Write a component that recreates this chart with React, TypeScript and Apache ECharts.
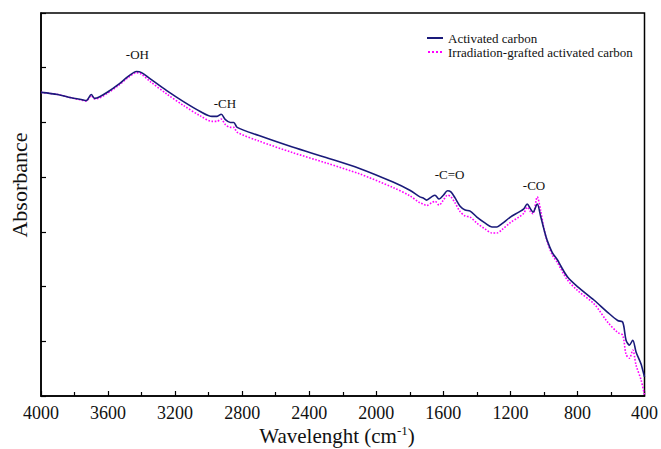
import React, { useEffect, useRef } from "react";
import * as echarts from "echarts";

const wavenumbers = [4000, 3900, 3820, 3760, 3730, 3700, 3680, 3650, 3600, 3540, 3480, 3430, 3400, 3350, 3250, 3150, 3050, 2980, 2950, 2925, 2900, 2870, 2850, 2830, 2700, 2500, 2300, 2100, 1900, 1800, 1740, 1720, 1700, 1670, 1650, 1625, 1600, 1575, 1555, 1530, 1500, 1470, 1440, 1400, 1350, 1310, 1280, 1250, 1200, 1150, 1120, 1100, 1080, 1065, 1040, 1020, 1000, 980, 950, 920, 900, 860, 800, 700, 620, 560, 530, 510, 490, 470, 450, 420, 400];

const activated = [5.55, 5.51, 5.45, 5.42, 5.40, 5.51, 5.44, 5.47, 5.56, 5.69, 5.84, 5.93, 5.91, 5.80, 5.58, 5.38, 5.20, 5.11, 5.11, 5.15, 5.05, 5.00, 5.00, 4.91, 4.76, 4.55, 4.36, 4.16, 3.91, 3.76, 3.64, 3.62, 3.58, 3.64, 3.67, 3.60, 3.67, 3.75, 3.73, 3.62, 3.47, 3.40, 3.38, 3.27, 3.16, 3.09, 3.09, 3.15, 3.27, 3.36, 3.42, 3.51, 3.42, 3.36, 3.51, 3.29, 3.05, 2.84, 2.62, 2.49, 2.38, 2.18, 2.00, 1.75, 1.53, 1.38, 1.35, 1.02, 0.93, 1.02, 0.80, 0.58, 0.35];

const grafted = [5.55, 5.51, 5.45, 5.41, 5.39, 5.49, 5.43, 5.45, 5.54, 5.67, 5.82, 5.91, 5.88, 5.75, 5.52, 5.31, 5.12, 5.02, 5.02, 5.06, 4.96, 4.91, 4.91, 4.82, 4.66, 4.45, 4.26, 4.06, 3.81, 3.66, 3.53, 3.51, 3.48, 3.53, 3.56, 3.49, 3.58, 3.67, 3.64, 3.53, 3.37, 3.29, 3.27, 3.16, 3.05, 2.98, 2.98, 3.04, 3.17, 3.27, 3.34, 3.45, 3.37, 3.33, 3.64, 3.40, 3.06, 2.82, 2.58, 2.44, 2.33, 2.12, 1.93, 1.68, 1.35, 1.16, 1.11, 0.76, 0.69, 0.84, 0.56, 0.29, 0.02];

const seriesNames = ["Activated carbon", "Irradiation-grafted activated carbon"];

const peakLabels = ["-OH", "-CH", "-C=O", "-CO"];
const peakWavenumbers = [3425, 2903, 1563, 1059];
const peakValues = [6.25, 5.35, 4.04, 3.85];

const FONT = "Liberation Serif, serif";
const BLUE = "#1a1a7a";
const PINK = "#ff00ff";

export default function App() {
  const ref = useRef<HTMLDivElement>(null);
  useEffect(() => {
    if (!ref.current) return;
    const chart = echarts.init(ref.current, undefined, { renderer: "svg" });
    const blue = wavenumbers.map((w, i) => [w, activated[i]]);
    const pink = wavenumbers.map((w, i) => [w, grafted[i]]);
    chart.setOption({
      animation: false,
      backgroundColor: "#fff",
      textStyle: { fontFamily: FONT },
      grid: {
        left: 41,
        right: 13,
        top: 13,
        bottom: 53,
        show: true,
        borderColor: "#000",
        borderWidth: 1.5,
      },
      legend: {
        orient: "vertical",
        left: 427,
        top: 31,
        itemWidth: 16,
        itemHeight: 2,
        itemGap: 0,
        padding: 0,
        textStyle: { fontFamily: FONT, fontSize: 13, color: "#111", lineHeight: 14 },
        data: [
          { name: seriesNames[0], icon: "path://M0,0h16v2h-16z", itemStyle: { color: BLUE } },
          {
            name: seriesNames[1],
            icon: "path://M0,0h2v2h-2z M4,0h2v2h-2z M8,0h2v2h-2z M12,0h2v2h-2z",
            itemStyle: { color: PINK },
          },
        ],
      },
      xAxis: {
        type: "value",
        inverse: true,
        min: 400,
        max: 4000,
        interval: 400,
        axisLine: { show: true, lineStyle: { color: "#000", width: 1.5 } },
        axisTick: { show: true, inside: true, length: 5, lineStyle: { color: "#000", width: 1.2 } },
        minorTick: { show: true, splitNumber: 2, length: 4, lineStyle: { color: "#000", width: 1.2 } },
        axisLabel: {
          fontFamily: FONT,
          fontSize: 18,
          color: "#111",
          margin: 8,
          formatter: (v: number) => String(v),
        },
        splitLine: { show: false },
      },
      yAxis: {
        type: "value",
        min: 0,
        max: 7,
        interval: 1,
        axisLine: { show: true, lineStyle: { color: "#000", width: 1.5 } },
        axisTick: { show: true, inside: true, length: 5, lineStyle: { color: "#000", width: 1.2 } },
        axisLabel: { show: false },
        splitLine: { show: false },
      },
      graphic: [
        {
          type: "text",
          x: 19,
          y: 185,
          rotation: Math.PI / 2,
          style: {
            text: "Absorbance",
            fontFamily: FONT,
            fontSize: 22,
            fill: "#111",
            align: "center",
            verticalAlign: "middle",
          },
        },
        {
          type: "text",
          x: 337,
          y: 436,
          style: {
            text: "{a|Wavelenght (cm}{s|-1}{a|)}",
            align: "center",
            verticalAlign: "middle",
            fontFamily: FONT,
            rich: {
              a: { fontFamily: FONT, fontSize: 21, fill: "#111", color: "#111" },
              s: { fontFamily: FONT, fontSize: 13, fill: "#111", color: "#111", verticalAlign: "top", padding: [0, 0, 11, 0] },
            },
          },
        },
      ],
      series: [
        {
          name: seriesNames[0],
          type: "line",
          data: blue,
          showSymbol: false,
          symbol: "none",
          smooth: 0.3,
          lineStyle: { color: BLUE, width: 1.6 },
          itemStyle: { color: BLUE },
          z: 3,
          markPoint: {
            symbol: "circle",
            symbolSize: 0,
            label: {
              show: true,
              position: "inside",
              fontFamily: FONT,
              fontSize: 13,
              color: "#111",
              formatter: (p: any) => p.name,
            },
            data: peakLabels.map((n, i) => ({ name: n, coord: [peakWavenumbers[i], peakValues[i]] })),
          },
        },
        {
          name: seriesNames[1],
          type: "line",
          data: pink,
          showSymbol: false,
          symbol: "none",
          smooth: 0.3,
          lineStyle: { color: PINK, width: 1.6, type: "dotted" },
          itemStyle: { color: PINK },
          z: 2,
        },
      ],
    });
    return () => chart.dispose();
  }, []);
  return <div ref={ref} style={{ width: 661, height: 449, position: "absolute", left: 0, top: 0 }} />;
}
